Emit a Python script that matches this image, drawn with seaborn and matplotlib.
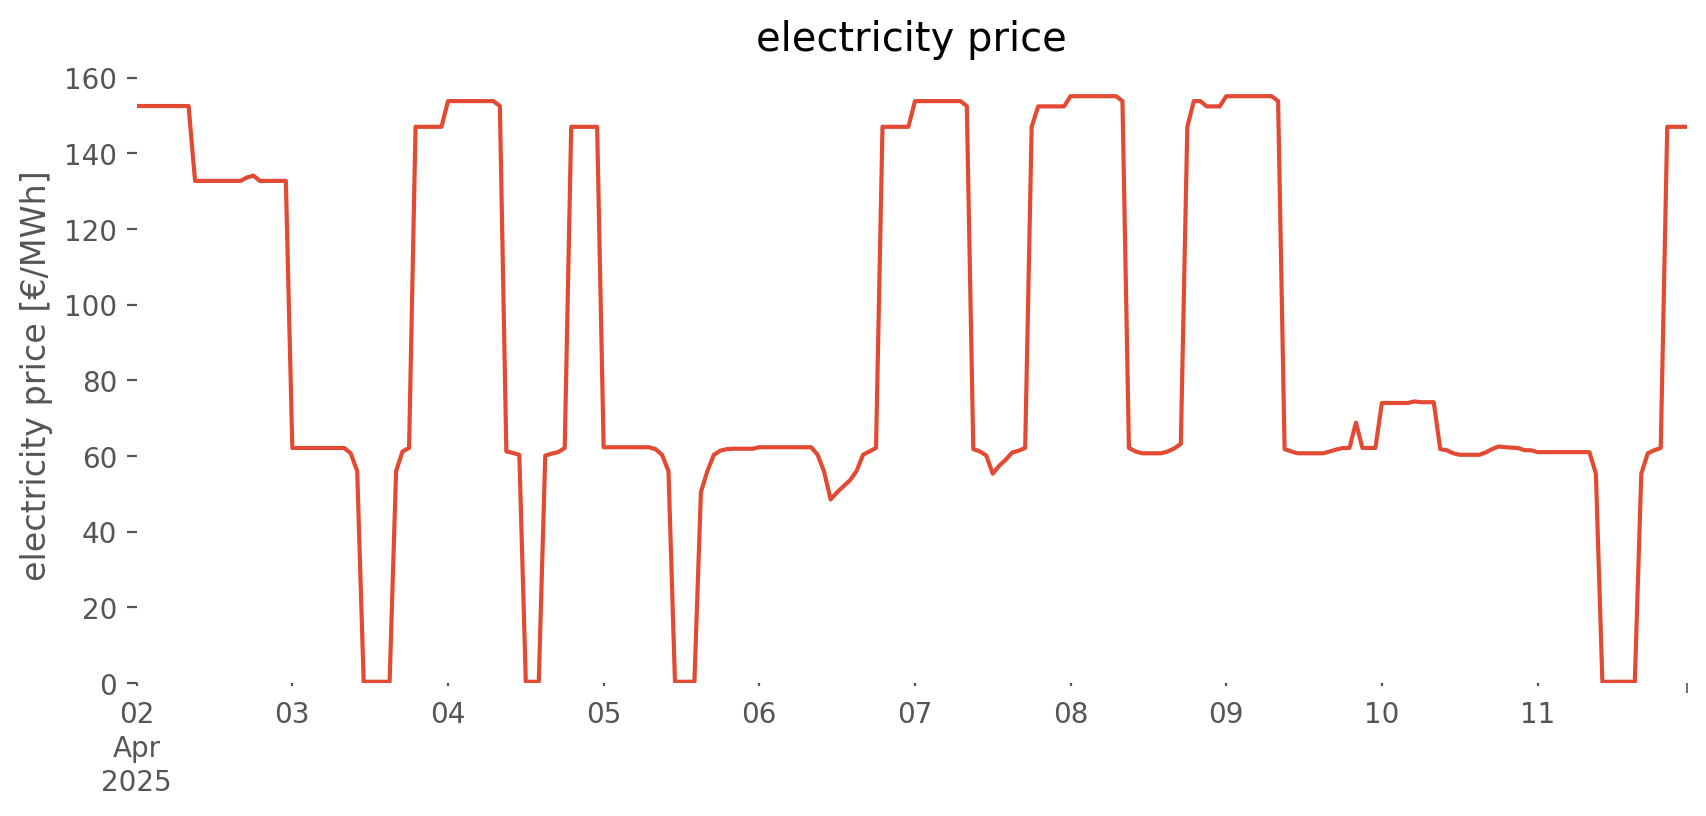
import matplotlib
matplotlib.use('Agg')
import numpy as np
import pandas as pd
import matplotlib.pyplot as plt
import seaborn as sns

# hourly prices per day [EUR/MWh]
day_02 = [152.5, 152.5, 152.5, 152.5, 152.5, 152.5, 152.5, 152.5, 152.5, 132.7, 132.7, 132.7,
          132.7, 132.7, 132.7, 132.7, 132.7, 133.6, 134.1, 132.7, 132.7, 132.7, 132.7, 132.7]
day_03 = [62.1, 62.1, 62.1, 62.1, 62.1, 62.1, 62.1, 62.1, 62.1, 60.7, 56.0, 0.3,
          0.3, 0.3, 0.3, 0.3, 56.0, 61.2, 62.1, 147.0, 147.0, 147.0, 147.0, 147.0]
day_04 = [153.8, 153.8, 153.8, 153.8, 153.8, 153.8, 153.8, 153.8, 152.5, 61.2, 60.8, 60.3,
          0.3, 0.3, 0.3, 60.1, 60.6, 61.0, 62.1, 147.0, 147.0, 147.0, 147.0, 147.0]
day_05 = [62.3, 62.3, 62.3, 62.3, 62.3, 62.3, 62.3, 62.3, 61.8, 60.3, 56.0, 0.3,
          0.3, 0.3, 0.3, 50.4, 56.0, 60.3, 61.4, 61.8, 61.9, 61.9, 61.9, 61.9]
day_06 = [62.3, 62.3, 62.3, 62.3, 62.3, 62.3, 62.3, 62.3, 62.3, 60.3, 55.8, 48.5,
          50.4, 52.0, 53.6, 56.0, 60.3, 61.2, 62.1, 147.0, 147.0, 147.0, 147.0, 147.0]
day_07 = [153.8, 153.8, 153.8, 153.8, 153.8, 153.8, 153.8, 153.8, 152.5, 61.8, 61.2, 60.1,
          55.3, 57.4, 59.0, 60.9, 61.4, 62.1, 147.0, 152.4, 152.4, 152.4, 152.4, 152.4]
day_08 = [155.1, 155.1, 155.1, 155.1, 155.1, 155.1, 155.1, 155.1, 153.8, 62.1, 61.2, 60.7,
          60.7, 60.7, 60.7, 61.2, 62.0, 63.2, 147.0, 153.8, 153.8, 152.4, 152.4, 152.4]
day_09 = [155.1, 155.1, 155.1, 155.1, 155.1, 155.1, 155.1, 155.1, 153.8, 61.8, 61.2, 60.7,
          60.7, 60.7, 60.7, 60.7, 61.2, 61.7, 62.1, 62.1, 68.8, 62.1, 62.1, 62.1]
day_10 = [74.0, 74.0, 74.0, 74.0, 74.0, 74.4, 74.2, 74.2, 74.2, 61.8, 61.5, 60.7,
          60.3, 60.3, 60.3, 60.3, 60.9, 61.8, 62.5, 62.3, 62.2, 62.1, 61.5, 61.5]
day_11 = [61.0, 61.0, 61.0, 61.0, 61.0, 61.0, 61.0, 61.0, 61.0, 55.3, 0.3, 0.3,
          0.3, 0.3, 0.3, 0.3, 55.3, 60.7, 61.5, 62.1, 147.0, 147.0, 147.0, 147.0]

prices = day_02 + day_03 + day_04 + day_05 + day_06 + day_07 + day_08 + day_09 + day_10 + day_11
times = pd.date_range('2025-04-02 00:00', periods=len(prices), freq='h')
df = pd.DataFrame({'time': times, 'price': prices})

day_ticks = pd.date_range('2025-04-02', '2025-04-11', freq='D')
day_labels = ['02\nApr\n2025', '03', '04', '05', '06', '07', '08', '09', '10', '11']

plt.style.use('ggplot')
plt.rcParams.update({
    'axes.facecolor': 'white',
    'figure.facecolor': 'white',
    'axes.grid': False,
    'axes.edgecolor': 'white',
})

fig, ax = plt.subplots(figsize=(10, 4), dpi=200)
sns.lineplot(data=df, x='time', y='price', color='#E24A33', linewidth=1.5, ax=ax)

ax.set_xlim(times[0], times[-1])
ax.set_ylim(bottom=0)
ax.set_xticks(day_ticks)
ax.set_xticklabels(day_labels, linespacing=1.27)
ax.set_xticks([times[0], times[-1]], minor=True)
ax.tick_params(axis='x', which='major', length=1.2, pad=5, colors='#555555')
ax.tick_params(axis='x', which='minor', length=3.5, colors='#555555')
for s in ax.spines.values():
    s.set_visible(False)

ax.set_xlabel('')
ax.set_ylabel('electricity price [€/MWh]')
ax.set_title('electricity price')

fig.savefig('out.png', bbox_inches='tight')
